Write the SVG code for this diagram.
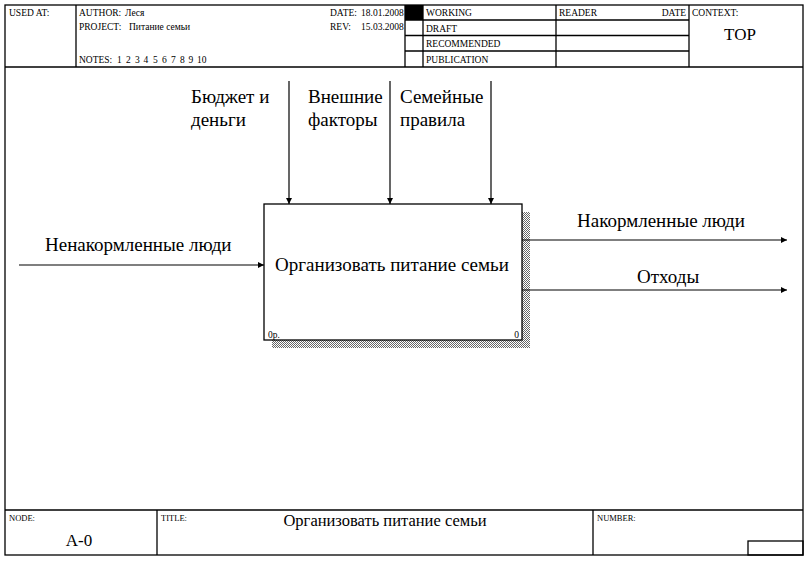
<svg xmlns="http://www.w3.org/2000/svg" width="808" height="561" viewBox="0 0 808 561">
<style>
.f{fill:none;stroke:#000;stroke-width:1.3}
.s{font-family:"Liberation Serif","Times New Roman",serif;font-size:9.5px;fill:#000}
.m{font-family:"Liberation Serif","Times New Roman",serif;font-size:19px;fill:#000}
.t{font-family:"Liberation Serif","Times New Roman",serif;font-size:17px;fill:#000}
.a{fill:none;stroke:#000;stroke-width:1.2}
</style>
<defs>
<marker id="ah" viewBox="0 0 10 10" refX="10" refY="5" markerWidth="8" markerHeight="6" markerUnits="userSpaceOnUse" orient="auto">
<path d="M0,0 L10,5 L0,10 Z" fill="#000"/>
</marker>
<pattern id="hatch" width="2" height="2" patternUnits="userSpaceOnUse">
<rect width="2" height="2" fill="#fff"/>
<rect width="1" height="1" fill="#666"/>
<rect x="1" y="1" width="1" height="1" fill="#666"/>
</pattern>
</defs>
<rect width="808" height="561" fill="#fff"/>
<g id="frame">
<rect class="f" x="5" y="5" width="798" height="550"/>
<line class="f" x1="5" y1="67" x2="803" y2="67"/>
<line class="f" x1="76" y1="5" x2="76" y2="67"/>
<line class="f" x1="405" y1="5" x2="405" y2="67"/>
<line class="f" x1="423" y1="5" x2="423" y2="67"/>
<line class="f" x1="556" y1="5" x2="556" y2="67"/>
<line class="f" x1="689" y1="5" x2="689" y2="67"/>
<line class="f" x1="405" y1="20" x2="689" y2="20"/>
<line class="f" x1="405" y1="35.5" x2="689" y2="35.5"/>
<line class="f" x1="405" y1="51" x2="689" y2="51"/>
<rect x="405" y="5" width="18" height="15" fill="#000"/>
<line class="f" x1="5" y1="510" x2="803" y2="510"/>
<line class="f" x1="157" y1="510" x2="157" y2="555"/>
<line class="f" x1="593" y1="510" x2="593" y2="555"/>
<rect class="f" x="748" y="541" width="55" height="14"/>
<text class="s" x="9" y="16">USED AT:</text>
<text class="s" x="79" y="16">AUTHOR:</text>
<text class="s" x="125" y="16">Леся</text>
<text class="s" x="79" y="30">PROJECT:</text>
<text class="s" x="129" y="30">Питание семьи</text>
<text class="s" y="63"><tspan x="79">NOTES:</tspan><tspan x="117">1</tspan><tspan x="126">2</tspan><tspan x="135">3</tspan><tspan x="143.5">4</tspan><tspan x="153">5</tspan><tspan x="162">6</tspan><tspan x="171">7</tspan><tspan x="180">8</tspan><tspan x="188.5">9</tspan><tspan x="197">10</tspan></text>
<text class="s" x="330" y="16">DATE:</text>
<text class="s" x="361" y="16">18.01.2008</text>
<text class="s" x="330" y="30">REV:</text>
<text class="s" x="361" y="30">15.03.2008</text>
<text class="s" x="426" y="16">WORKING</text>
<text class="s" x="426" y="31.5">DRAFT</text>
<text class="s" x="426" y="47">RECOMMENDED</text>
<text class="s" x="426" y="62.5">PUBLICATION</text>
<text class="s" x="559" y="16">READER</text>
<text class="s" x="686" y="16" text-anchor="end">DATE</text>
<text class="s" x="692" y="16">CONTEXT:</text>
<text class="t" x="740" y="40" text-anchor="middle">TOP</text>
<text class="s" x="9" y="521" style="font-size:8.5px">NODE:</text>
<text class="s" x="161" y="521" style="font-size:8.5px">TITLE:</text>
<text class="s" x="597" y="521" style="font-size:8.5px">NUMBER:</text>
<text class="t" x="79" y="546" text-anchor="middle">A-0</text>
<text class="m" x="385" y="526" text-anchor="middle" style="font-size:16.5px">Организовать питание семьи</text>
</g>
<g id="node-A0">
<rect x="522" y="212" width="8" height="136" fill="url(#hatch)"/>
<rect x="272" y="340" width="258" height="8" fill="url(#hatch)"/>
<rect x="264" y="204" width="258" height="136" fill="#fff" stroke="#000" stroke-width="1.3"/>
<text class="m" x="392" y="271" text-anchor="middle">Организовать питание семьи</text>
<text class="s" x="268" y="338">0р.</text>
<text class="s" x="519" y="338" text-anchor="end">0</text>
</g>
<g id="connectors">
<line class="a" x1="289" y1="81" x2="289" y2="204" marker-end="url(#ah)"/>
<line class="a" x1="390" y1="81" x2="390" y2="204" marker-end="url(#ah)"/>
<line class="a" x1="491" y1="81" x2="491" y2="204" marker-end="url(#ah)"/>
<line class="a" x1="19" y1="265" x2="264" y2="265" marker-end="url(#ah)"/>
<line class="a" x1="522" y1="240" x2="787" y2="240" marker-end="url(#ah)"/>
<line class="a" x1="522" y1="290" x2="787" y2="290" marker-end="url(#ah)"/>
<text class="m" x="191" y="103">Бюджет и</text>
<text class="m" x="191" y="126">деньги</text>
<text class="m" x="308" y="103">Внешние</text>
<text class="m" x="308" y="126">факторы</text>
<text class="m" x="400" y="103">Семейные</text>
<text class="m" x="400" y="126">правила</text>
<text class="m" x="45" y="251">Ненакормленные люди</text>
<text class="m" x="577" y="227">Накормленные люди</text>
<text class="m" x="637" y="283">Отходы</text>
</g>
</svg>
